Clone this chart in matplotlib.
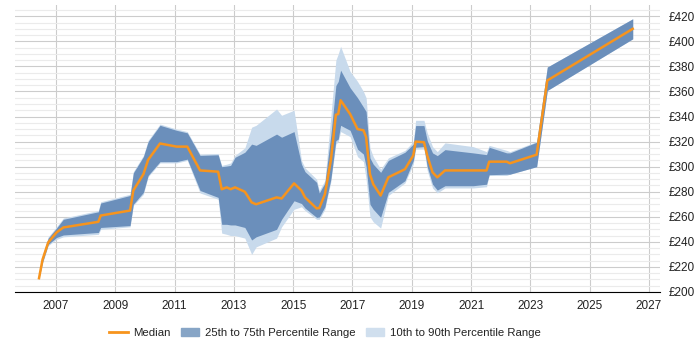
import matplotlib
matplotlib.use("Agg")
import matplotlib.pyplot as plt
from matplotlib.patches import Patch
from matplotlib.lines import Line2D
from matplotlib.ticker import MultipleLocator, FuncFormatter

plt.rcParams['font.family'] = ['Liberation Sans', 'DejaVu Sans']

years = [2006.43, 2006.55, 2006.74, 2007.02, 2007.25, 2008.43, 2008.51, 2009.50, 2009.61, 2009.95,
         2010.11, 2010.51, 2011.07, 2011.43, 2011.86, 2012.47, 2012.59, 2012.76, 2012.89, 2013.04,
         2013.37, 2013.60, 2013.75, 2014.44, 2014.61, 2015.03, 2015.28, 2015.40, 2015.79, 2015.88,
         2016.07, 2016.27, 2016.44, 2016.52, 2016.60, 2016.92, 2017.17, 2017.37, 2017.46, 2017.59,
         2017.70, 2017.95, 2018.21, 2018.77, 2019.05, 2019.13, 2019.41, 2019.52, 2019.70, 2019.86,
         2020.12, 2021.07, 2021.52, 2021.61, 2022.20, 2022.31, 2023.21, 2023.57, 2026.45]

median = [211, 226, 239.5, 247.5, 251.5, 256, 261, 265, 281, 294,
          305.5, 318.5, 316, 316, 297, 296, 282, 283.5, 282, 283.5,
          280, 271.5, 270, 275.5, 274.6, 286.7, 281, 275.5, 266.7, 267,
          278, 305, 341.4, 342, 353, 342, 330, 329, 323.5, 294,
          286, 277, 291.5, 298, 309, 320, 319.5, 309, 295.5, 291.5,
          297, 297, 297, 304, 304, 302.7, 309.6, 368.8, 410]

p25 = [211, 224, 238, 243.5, 245.5, 247.5, 251.5, 253, 270, 279.5,
       293, 304, 304, 306, 281, 275.5, 254, 254, 253.5, 253.5,
       251.5, 241.5, 244, 250, 258, 272.8, 270.6, 267, 259.5, 259.8,
       268, 290, 320.8, 322, 333, 329, 314, 310, 300, 270,
       266, 259.5, 279.5, 288.8, 304.8, 315.5, 316, 300, 286, 281.3,
       284.8, 284.8, 286, 293.6, 294, 294, 300, 360.8, 402]

p75 = [211, 229, 243, 251, 258, 264, 271, 277, 295, 308,
       320, 333, 329, 327, 309, 309.5, 300, 300.5, 301, 307.5,
       311.5, 318, 317, 326, 323.5, 328, 302, 296, 287.5, 279,
       287, 325, 364.8, 368, 377, 363, 355, 347.5, 344, 307,
       302, 295.5, 305, 311.5, 318, 332.8, 332.8, 320.8, 311, 308.8,
       313.6, 311, 309.6, 315.5, 311, 311, 319.5, 379.5, 418]

p10 = [211, 223, 237, 242, 244, 246, 250, 252, 269, 278,
       292, 303, 303, 305, 279, 274, 247, 246, 245, 245,
       243, 230, 236, 243, 252, 266, 268, 265, 258, 258,
       266, 288, 318, 320, 328, 324, 308, 304, 290, 260,
       256, 251, 277, 287, 302, 314, 314, 297, 283, 279,
       283, 283, 284, 293, 293, 294, 300, 360.8, 402]

p90 = [211, 230, 244, 252, 259, 265, 272, 278, 296, 309,
       321, 334, 330, 328, 310, 310.5, 301, 302, 303, 309,
       315, 331.5, 333, 346, 341, 345, 305, 299, 290, 281,
       289, 340, 385, 390, 396, 376, 368, 360, 355, 315,
       308, 298, 307, 313, 320, 337, 337, 327, 316, 312,
       319, 316, 312, 317, 313, 312, 320, 379.5, 418]

x_ticks = list(range(2007, 2028, 2))

orange = '#f7941d'
dark = '#6b8fbb'
light = '#c8daec'

fig = plt.figure(figsize=(7, 3.5), dpi=100)
ax = fig.add_axes([15 / 700, 58 / 350, 645 / 700, 287 / 350])

ax.fill_between(years, p10, p90, color=light, lw=0)
ax.fill_between(years, p25, p75, color=dark, lw=0)
ax.plot(years, median, color=orange, lw=1.8)

ax.set_xlim(2005.62, 2027.37)
ax.set_ylim(200, 429)
ax.set_xticks(x_ticks)
ax.set_xticklabels([str(y) for y in x_ticks])
ax.yaxis.set_major_locator(MultipleLocator(20))
ax.yaxis.set_minor_locator(MultipleLocator(5))
ax.yaxis.set_major_formatter(FuncFormatter(lambda v, p: "£%d" % v))
ax.yaxis.tick_right()

ax.grid(True, which='major', color='#cccccc', lw=0.8)
ax.grid(True, which='minor', axis='y', color='#ebebeb', lw=0.8)
ax.set_axisbelow(True)

for s in ['top', 'left', 'right']:
    ax.spines[s].set_visible(False)
ax.spines['bottom'].set_color('black')
ax.tick_params(axis='both', which='both', length=0, labelsize=8.5, colors='#222222')
ax.tick_params(axis='y', pad=6)
ax.tick_params(axis='x', pad=6)

handles = [Line2D([], [], color=orange, lw=2),
           Patch(color='#87a5c6'),
           Patch(color='#d0dfee')]
labels = ['Median', '25th to 75th Percentile Range', '10th to 90th Percentile Range']
fig.legend(handles, labels, loc='center', bbox_to_anchor=(325 / 700, 17 / 350), ncol=3,
           frameon=False, fontsize=8.2, handlelength=1.6, columnspacing=0.9,
           handletextpad=0.5, labelcolor='#222222')

fig.savefig("out.png", dpi=100)
